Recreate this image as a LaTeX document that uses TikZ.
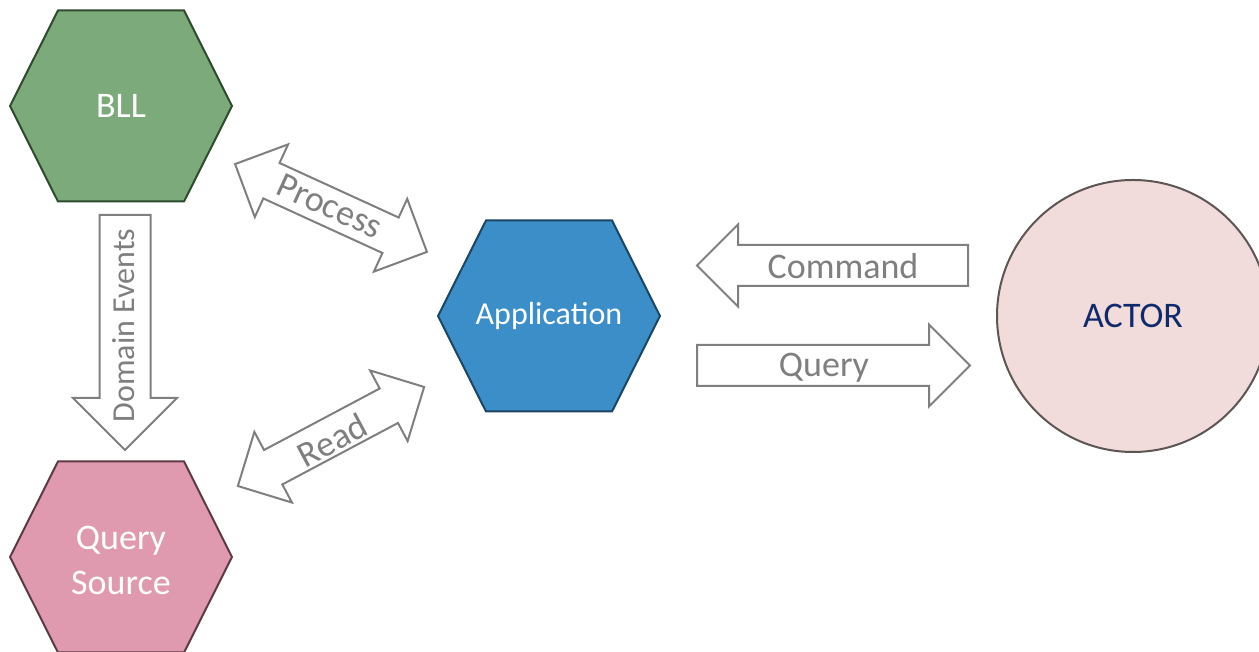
\documentclass[tikz,border=0pt]{standalone}
\usepackage{fontspec}
\setmainfont{Carlito}
\definecolor{bllfill}{HTML}{7DAA7A}
\definecolor{bllline}{HTML}{2E4A2C}
\definecolor{appfill}{HTML}{3B8EC8}
\definecolor{appline}{HTML}{1C4563}
\definecolor{qsfill}{HTML}{E09AAF}
\definecolor{qsline}{HTML}{5C3A44}
\definecolor{actfill}{HTML}{F2DBDB}
\definecolor{actline}{HTML}{5E5555}
\definecolor{actext}{HTML}{0F2A6B}
\definecolor{flowgray}{HTML}{7F7F7F}
\begin{document}
\begin{tikzpicture}[x=1pt,y=1pt,
	big/.style={font=\fontsize{36}{45}\selectfont},
	small/.style={font=\fontsize{32}{38}\selectfont},
	flow/.style={draw=flowgray, line width=2pt, fill=white},
	flowtext/.style={text=flowgray, inner sep=0pt, big},
	pics/hexa/.style 2 args={code={
		\filldraw[draw=#1, fill=#2, line width=2pt] (-111,0) -- (-63,95.5) -- (63,95.5) -- (111,0) -- (63,-95.5) -- (-63,-95.5) -- cycle;}},
	pics/onearrow/.style n args={3}{code={
		\filldraw[flow] (0,-#2) -- ({#1-#3},-#2) -- ({#1-#3},-#3) -- (#1,0) -- ({#1-#3},#3) -- ({#1-#3},#2) -- (0,#2) -- cycle;}},
	pics/twoarrow/.style n args={3}{code={
		\filldraw[flow] (-#1/2,0) -- ({-#1/2+#3},#3) -- ({-#1/2+#3},#2) -- ({#1/2-#3},#2) -- ({#1/2-#3},#3) -- (#1/2,0)
			-- ({#1/2-#3},-#3) -- ({#1/2-#3},-#2) -- ({-#1/2+#3},-#2) -- ({-#1/2+#3},-#3) -- cycle;}}]
	\useasboundingbox (0,0) rectangle (1259,652);
	% hexagons and actor
	\pic at (121, 546)	{hexa={bllline}{bllfill}};
	\pic at (549, 336)	{hexa={appline}{appfill}};
	\pic at (121, 95)	{hexa={qsline}{qsfill}};
	\node (BLL) at (121, 546)	[text=white, big]	{BLL};
	\node (App) at (549, 336)	[text=white, small]	{Application};
	\node (QS) at (121, 92)	[text=white, big, align=center]	{Query\\Source};
	\node (Actor) at (1133, 336)	[circle, draw=actline, fill=actfill, line width=2pt, minimum size=272pt, text=actext, big]	{ACTOR};
	% block arrows
	\pic[rotate=-90] at (125, 437)	{onearrow={235}{25.5}{52}};
	\pic[rotate=180] at (968, 386.5)	{onearrow={271}{20.5}{41}};
	\pic at (697, 286.5)	{onearrow={273}{20.5}{41}};
	\pic[rotate=-24.6] at (331, 444)	{twoarrow={211}{19.5}{40}};
	\pic[rotate=28] at (331, 215.5)	{twoarrow={211}{19.5}{40}};
	\node (Events) at (134, 326.5)	[flowtext, small, anchor=base, rotate=90]	{Domain Events};
	\node (Cmd) at (843, 373)	[flowtext, anchor=base]	{Command};
	\node (Qry) at (824, 275)	[flowtext, anchor=base]	{Query};
	\node (Proc) at (330, 446)	[flowtext, rotate=-24.6]	{Process};
	\node (Rd) at (332, 212)	[flowtext, rotate=28]	{Read};
\end{tikzpicture}
\end{document}
